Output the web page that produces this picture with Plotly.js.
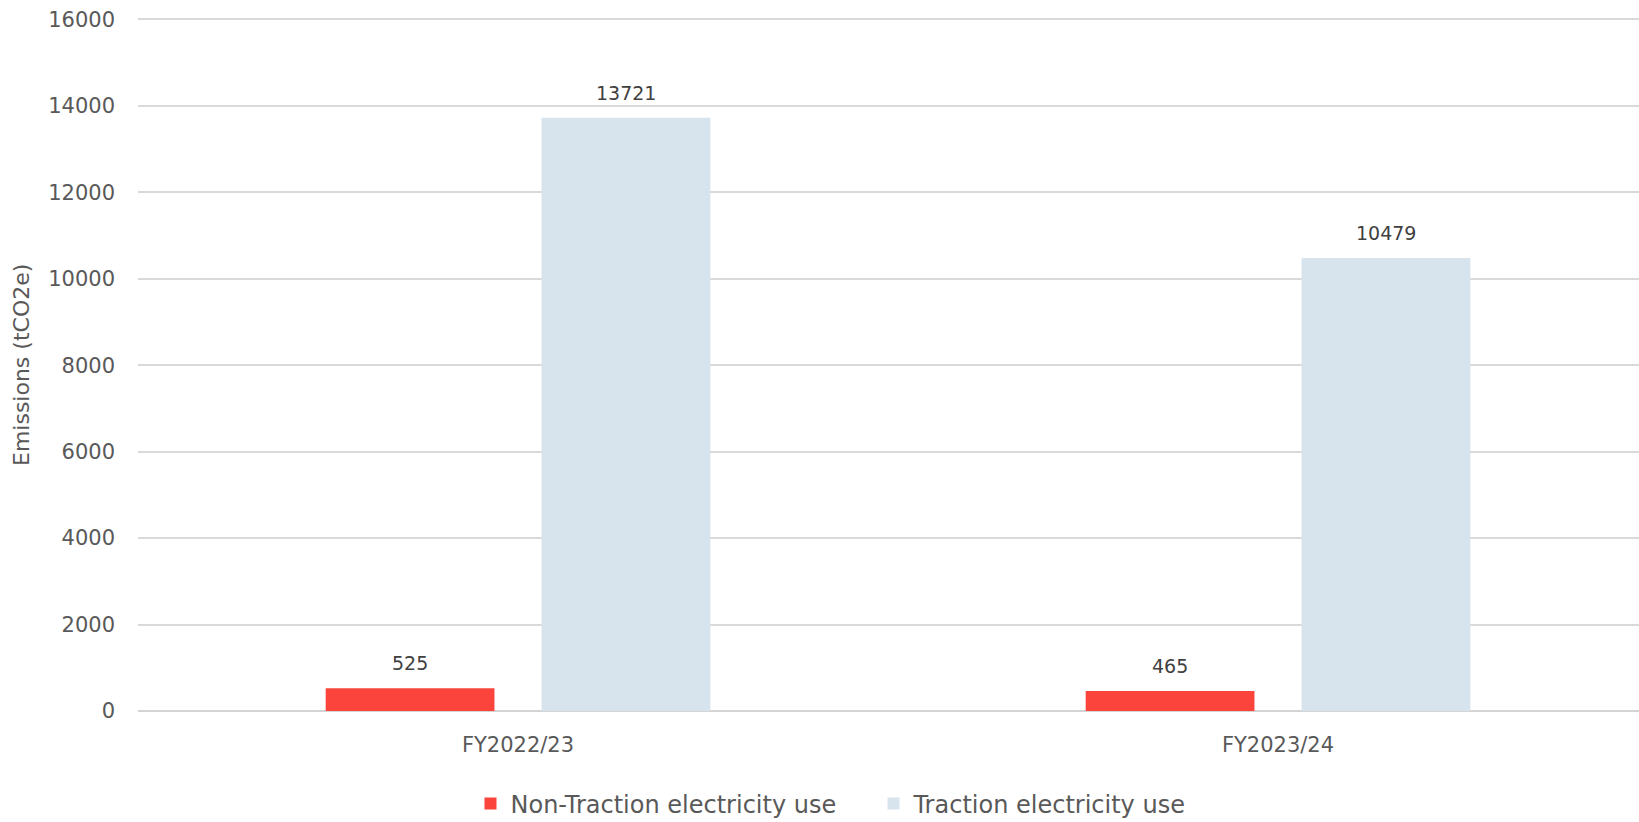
<!DOCTYPE html>
<html>
<head>
<meta charset="utf-8">
<script src="https://cdn.plot.ly/plotly-3.0.1.min.js"></script>
<style>
  html, body { margin: 0; padding: 0; background: #ffffff; }
  #chart { width: 1639px; height: 822px; }
</style>
</head>
<body>
<div id="chart"></div>
<script>
// Electricity emissions by financial year (tCO2e)
const categories = ['FY2022/23', 'FY2023/24'];
const nonTraction = [525, 465];
const traction = [13721, 10479];
const seriesNames = ['Non-Traction electricity use', 'Traction electricity use'];
const yTicks = [0, 2000, 4000, 6000, 8000, 10000, 12000, 14000, 16000];
const yTitle = 'Emissions (tCO2e)';

const FONT = '"DejaVu Sans", sans-serif';
const RED = '#FA443C';
const BLUE = '#D7E4EE';
const GREY = '#595959';

// grouped-bar geometry (fractions of one category)
const BARGAP = 0.432;
const GROUPGAP = 0.218;
const slot = (1 - BARGAP) / 2;

const traces = [
  { type: 'bar', name: seriesNames[0], x: categories, y: nonTraction,
    marker: { color: RED }, hoverinfo: 'y' },
  { type: 'bar', name: seriesNames[1], x: categories, y: traction,
    marker: { color: BLUE }, hoverinfo: 'y' }
];

// value labels above each bar, centred on its slot
const annotations = [];
[nonTraction, traction].forEach((vals, s) => {
  const off = -(1 - BARGAP) / 2 + slot * (s + 0.5);
  vals.forEach((v, i) => {
    annotations.push({
      x: i + off, y: v, xref: 'x', yref: 'y',
      text: String(v), showarrow: false,
      yanchor: 'bottom', yshift: 12,
      font: { family: FONT, size: 19, color: '#404040' }
    });
  });
});

// vertical axis title, set close to the left edge
annotations.push({
  text: yTitle, xref: 'paper', yref: 'paper',
  x: -0.078, y: 0.497, xanchor: 'center', yanchor: 'middle',
  textangle: -90, showarrow: false,
  font: { family: FONT, size: 22, color: GREY }
});

const layout = {
  width: 1639, height: 822,
  paper_bgcolor: '#ffffff', plot_bgcolor: '#ffffff',
  margin: { l: 138, r: 0, t: 14.5, b: 111, autoexpand: false },
  barmode: 'group',
  bargap: BARGAP,
  bargroupgap: GROUPGAP,
  showlegend: true,
  legend: {
    orientation: 'h', x: 0.49, xanchor: 'center',
    yref: 'container', y: 0.022, yanchor: 'middle',
    font: { family: FONT, size: 24, color: GREY },
    itemwidth: 30, tracegroupgap: 0,
    entrywidth: 358
  },
  xaxis: {
    type: 'category',
    range: [-0.5, 1.475],
    showgrid: false, zeroline: false, showline: false, ticks: '',
    tickfont: { family: FONT, size: 21, color: GREY },
    ticklabelstandoff: 19
  },
  yaxis: {
    range: [0, 16100],
    tickvals: yTicks,
    ticktext: yTicks.map(String),
    showgrid: true, gridcolor: '#D9D9D9', gridwidth: 1.5,
    zeroline: true, zerolinecolor: '#D4D4D4', zerolinewidth: 1.5,
    showline: false, ticks: '',
    tickfont: { family: FONT, size: 21, color: GREY },
    ticklabelstandoff: 22
  },
  annotations: annotations
};

Plotly.newPlot('chart', traces, layout, { displayModeBar: false, responsive: false });
</script>
</body>
</html>
